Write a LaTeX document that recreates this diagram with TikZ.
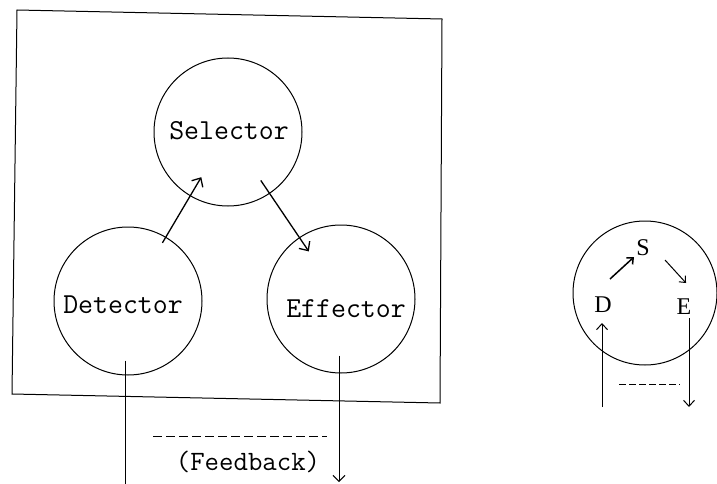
\documentclass[tikz,border=0pt]{standalone}
\usepackage{fontspec}
\usepackage{tikz}
\usetikzlibrary{arrows.meta,positioning,calc}
\newfontfamily\letterfont{Liberation Serif}

\begin{document}
\begin{tikzpicture}[x=1pt, y=-1pt,
    unit/.style={draw, circle, line width=1pt, minimum size=148pt, inner sep=0pt},
    label/.style={font=\ttfamily\fontsize{29}{31}\selectfont},
    flow/.style={line width=1.3pt, -{Straight Barb[length=7pt,width=13pt]}},
    wire/.style={line width=1pt},
    tag/.style={font=\letterfont\fontsize{24}{26}\selectfont, inner sep=3pt}]
  \useasboundingbox (0,0) rectangle (717,484);
  % Frame round the three units (slightly skewed, as drawn by hand)
  \draw[line width=1pt] (17,10) -- (442,19) -- (440,403) -- (12,394) -- cycle;
  % Three units
  \node[unit] (sel) at (228,132) {};
  \node[label] at (229,131) {Selector};
  \node[unit] (det) at (128,301) {};
  \node[label] at (123,305) {Detector};
  \node[unit] (eff) at (341,299) {};
  \node[label] at (346,309) {Effector};
  \draw[flow, shorten <=-7pt, shorten >=-22pt] (det) -- (sel);
  \draw[flow, shorten <=-16pt, shorten >=-17pt] (sel) -- (eff);
  % Feedback path below the frame
  \coordinate (detout) at (125,484);
  \coordinate (effout) at (339,482);
  \draw[wire] ([xshift=-3pt,yshift=15pt]det.south) -- (detout);
  \draw[wire, -{Straight Barb[length=6pt,width=12pt]}] ([xshift=-2pt,yshift=18pt]eff.south) -- (effout);
  \coordinate (fbl) at (153,436);
  \coordinate (fbr) at (327,436);
  \draw[wire, dash pattern=on 9pt off 4pt] (fbl) -- (fbr);
  \node[label, font=\ttfamily\fontsize{28}{30}\selectfont] (fb) at (248,462) {(Feedback)};
  % Short form
  \node[draw, circle, line width=1pt, minimum size=144pt, inner sep=0pt] (sm) at (645,293) {};
  \node[tag] (s) at (643,248) {S};
  \node[tag] (d) at (603,305) {D};
  \node[tag] (e) at (684,307) {E};
  \draw[line width=1.5pt, -{Straight Barb[length=5pt,width=9pt]}]
    ([shift={(7pt,26pt)}]d.center) -- ([shift={(-9pt,-9pt)}]s.center);
  \draw[line width=1pt, -{Straight Barb[length=5pt,width=9pt]}]
    ([shift={(22pt,-12pt)}]s.center) -- ([shift={(2pt,24pt)}]e.center);
  \coordinate (dup) at (602,407);
  \coordinate (edown) at (689,407);
  \draw[wire, -{Straight Barb[length=6pt,width=11pt]}] (dup) -- ([shift={(-1pt,-18pt)}]d.center);
  \draw[wire, -{Straight Barb[length=6pt,width=11pt]}] ([shift={(5pt,-11pt)}]e.center) -- (edown);
  \coordinate (sl) at (619,384);
  \coordinate (sr) at (680,384);
  \draw[wire, dash pattern=on 7pt off 3pt] (sl) -- (sr);
\end{tikzpicture}
\end{document}
